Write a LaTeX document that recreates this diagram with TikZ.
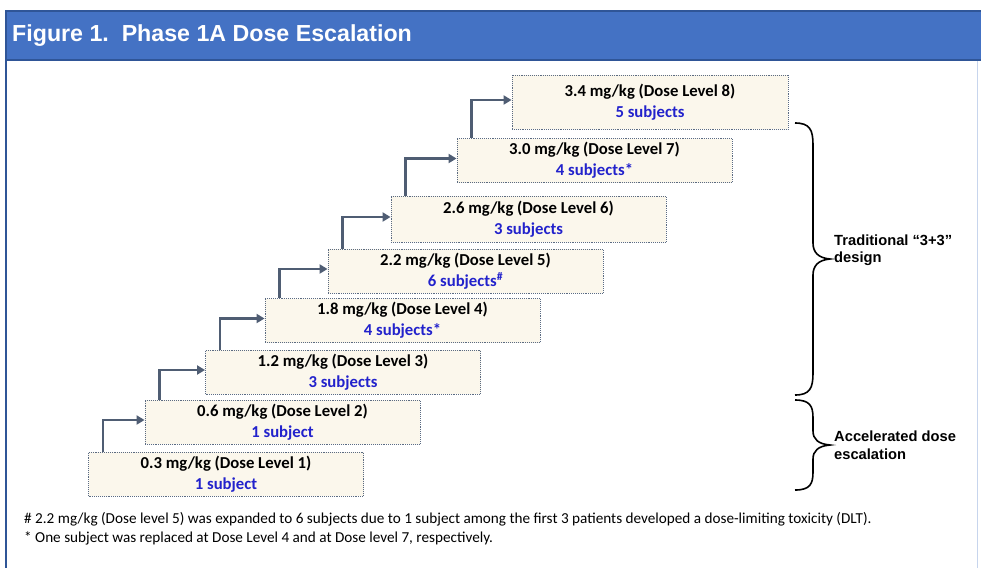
\documentclass[tikz,border=0pt]{standalone}
\usepackage{fontspec}
\setmainfont{Carlito}
\newfontfamily\arialf{Liberation Sans}
\usetikzlibrary{arrows.meta}
\definecolor{hdrblue}{HTML}{4472C4}
\definecolor{hdredge}{HTML}{2F5597}
\definecolor{boxfill}{HTML}{FBF7EC}
\definecolor{boxline}{HTML}{5B6B82}
\definecolor{arrowc}{HTML}{4F5D73}
\definecolor{subj}{HTML}{2222CC}
\tikzset{
  dosebox/.style={draw=boxline, densely dotted, line width=0.9pt, fill=boxfill,
    minimum width=275pt, minimum height=44pt, align=center, inner sep=0pt,
    font=\fontsize{16.7}{21}\selectfont\bfseries},
  stepar/.style={draw=arrowc, line width=2.6pt, -{Triangle[length=8pt,width=9pt]}},
  bracel/.style={draw=black, line width=1.6pt},
  sidelabel/.style={anchor=west, align=left, inner sep=0pt, font=\arialf\bfseries\fontsize{14.7}{17.5}\selectfont},
  footn/.style={anchor=west, inner sep=0pt, font=\fontsize{15.2}{17}\selectfont}
}
\begin{document}
\begin{tikzpicture}[x=1pt,y=-1pt]
\useasboundingbox (0,0) rectangle (981,568);
\fill[white] (0,0) rectangle (981,568);
% frame
\fill[hdrblue] (5,10) rectangle (981,61);
\draw[hdredge, line width=1.5pt] (5,11) -- (981,11);
\draw[hdredge, line width=1.5pt] (5,60) -- (981,60);
\draw[hdredge, line width=2pt] (6,10) -- (6,568);
\draw[hdrblue!30, line width=1pt] (977,61) -- (977,568);
\node[anchor=west, inner sep=0pt, text=white, font=\arialf\bfseries\fontsize{23.2}{26}\selectfont] (title) at (12,36) {Figure 1.\ \ Phase 1A Dose Escalation};
% boxes
\node[dosebox] (b1) at (226,474) {0.3 mg/kg (Dose Level 1)\\{\color{subj}1 subject}};
\node[dosebox] (b2) at (282.5,422) {0.6 mg/kg (Dose Level 2)\\{\color{subj}1 subject}};
\node[dosebox] (b3) at (343,372) {1.2 mg/kg (Dose Level 3)\\{\color{subj}3 subjects}};
\node[dosebox] (b4) at (402.5,320.5) {1.8 mg/kg (Dose Level 4)\\{\color{subj}4 subjects*}};
\node[dosebox] (b5) at (465.5,271) {2.2 mg/kg (Dose Level 5)\\{\color{subj}6 subjects\textsuperscript{\#}}};
\node[dosebox, minimum height=46pt] (b6) at (528.5,219) {2.6 mg/kg (Dose Level 6)\\{\color{subj}3 subjects}};
\node[dosebox] (b7) at (594.5,160.5) {3.0 mg/kg (Dose Level 7)\\{\color{subj}4 subjects*}};
\node[dosebox, minimum height=54pt, minimum width=276pt] (b8) at (650,102) {3.4 mg/kg (Dose Level 8)\\{\color{subj}5 subjects}};
% step arrows
\foreach \a/\b in {b1/b2,b2/b3,b3/b4,b4/b5,b5/b6,b6/b7,b7/b8}{
  \draw[stepar] ([xshift=15pt]\a.north west) |- ([yshift=2pt]\b.west);
}
% braces
\coordinate (ut) at (795,123);
\coordinate (ub) at (795,395);
\coordinate (utip) at (830,259);
\draw[bracel] (ut) .. controls (810,123) and (813,130) .. (813,145) -- (813,243)
  .. controls (813,252) and (818,258) .. (utip)
  .. controls (818,260) and (813,266) .. (813,275) -- (813,373)
  .. controls (813,388) and (810,395) .. (ub);
\coordinate (lt) at (795,400);
\coordinate (lb) at (795,490);
\coordinate (ltip) at (830,445);
\draw[bracel] (lt) .. controls (810,400) and (813,406) .. (813,418) -- (813,431)
  .. controls (813,439) and (818,444) .. (ltip)
  .. controls (818,446) and (813,451) .. (813,459) -- (813,472)
  .. controls (813,484) and (810,490) .. (lb);
\node[sidelabel] (lab1) at (834,250) {Traditional “3+3”\\design};
\node[sidelabel] (lab2) at (834,445) {Accelerated dose\\escalation};
% footnotes
\node[footn] (f1) at (24,519) {\# 2.2 mg/kg (Dose level 5) was expanded to 6 subjects due to 1 subject among the first 3 patients developed a dose-limiting toxicity (DLT).};
\node[footn] (f2) at (24,538) {* One subject was replaced at Dose Level 4 and at Dose level 7, respectively.};
\end{tikzpicture}
\end{document}
